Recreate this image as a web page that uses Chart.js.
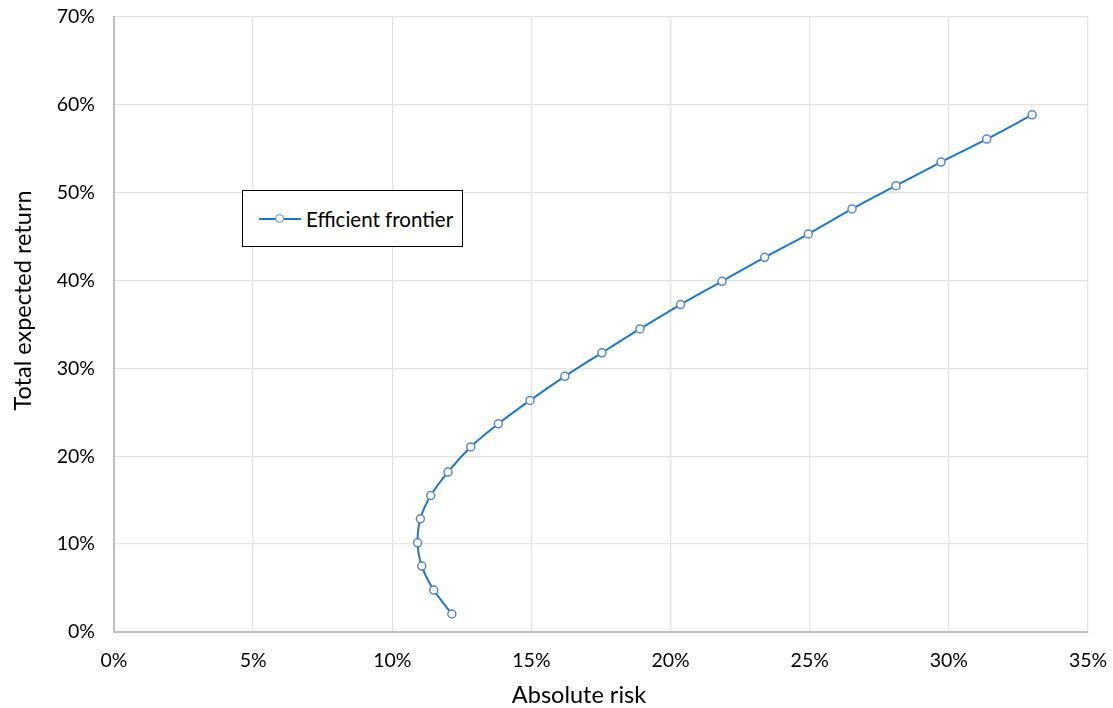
<!DOCTYPE html>
<html>
<head>
<meta charset="utf-8">
<script src="https://cdn.jsdelivr.net/npm/chart.js@4/dist/chart.umd.min.js"></script>
<style>
  html, body { margin: 0; padding: 0; background: #ffffff; }
  #wrap { position: relative; width: 1113px; height: 708px; }
  #legend {
    position: absolute; left: 242px; top: 190px; width: 219px; height: 55px;
    border: 1px solid #000; background: #fff; box-sizing: content-box;
    font-family: Lato, "Open Sans", sans-serif; font-size: 20.5px; color: #000;
    display: flex; align-items: center;
  }
  #legend .sym { position: relative; width: 42px; height: 20px; margin-left: 16px; margin-right: 5px; }
  #legend .sym .ln { position: absolute; left: 0; right: 0; top: 9px; height: 2px; background: #1f77c4; }
  #legend .sym .mk { position: absolute; left: 16px; top: 5px; width: 7px; height: 7px; border: 1.5px solid #5b86c5; border-radius: 50%; background: #fff; }
</style>
</head>
<body>
<div id="wrap">
  <canvas id="c" width="1113" height="708"></canvas>
  <div id="legend"><div class="sym"><div class="ln"></div><div class="mk"></div></div><span>Efficient frontier</span></div>
</div>
<script>
const seriesName = "Efficient frontier";
const riskValues = [12.14, 11.49, 11.06, 10.91, 11.01, 11.38, 12.0, 12.82, 13.81, 14.95, 16.2, 17.53, 18.9, 20.36, 21.85, 23.38, 24.95, 26.52, 28.1, 29.72, 31.36, 32.99];
const returnValues = [2.05, 4.77, 7.5, 10.15, 12.88, 15.53, 18.2, 21.06, 23.7, 26.36, 29.1, 31.78, 34.5, 37.27, 39.92, 42.65, 45.3, 48.15, 50.8, 53.49, 56.1, 58.86];
const xTickValues = [0, 5, 10, 15, 20, 25, 30, 35];
const yTickValues = [0, 10, 20, 30, 40, 50, 60, 70];
const xTitle = "Absolute risk";
const yTitle = "Total expected return";

const points = riskValues.map((x, i) => ({ x: x, y: returnValues[i] }));
const fontFamily = 'Lato, "Open Sans", sans-serif';

const axisTitles = {
  id: 'axisTitles',
  afterDraw(chart) {
    const ctx = chart.ctx, a = chart.chartArea;
    ctx.save();
    ctx.fillStyle = '#000';
    ctx.font = '23.5px ' + fontFamily;
    ctx.textAlign = 'center';
    ctx.textBaseline = 'alphabetic';
    ctx.fillText(xTitle, (a.left + a.right) / 2 - 22, 703);
    ctx.translate(31, (a.top + a.bottom) / 2 - 24);
    ctx.rotate(-Math.PI / 2);
    ctx.fillText(yTitle, 0, 0);
    ctx.restore();
  }
};

new Chart(document.getElementById('c'), {
  type: 'scatter',
  data: {
    datasets: [{
      label: seriesName,
      data: points,
      showLine: true,
      borderColor: '#1f77c4',
      borderWidth: 2,
      tension: 0.3,
      pointRadius: 4,
      pointBorderWidth: 1.5,
      pointBorderColor: '#5b86c5',
      pointBackgroundColor: '#ffffff'
    }]
  },
  plugins: [axisTitles],
  options: {
    responsive: false,
    animation: false,
    layout: { padding: { left: 0, right: 25, top: 17, bottom: 0 } },
    plugins: { legend: { display: false }, tooltip: { enabled: false } },
    scales: {
      x: {
        type: 'linear', min: 0, max: 35,
        afterBuildTicks: (s) => { s.ticks = xTickValues.map(v => ({ value: v })); },
        afterFit: (s) => { s.height = 76; s.paddingLeft = 0; s.paddingRight = 0; },
        ticks: { callback: v => v + '%', color: '#000', font: { family: fontFamily, size: 19.5 }, padding: 17, maxRotation: 0 },
        grid: { color: '#e4e4e4', lineWidth: 1.3, drawTicks: false },
        border: { color: '#bfbfbf', width: 2 }
      },
      y: {
        type: 'linear', min: 0, max: 70,
        afterBuildTicks: (s) => { s.ticks = yTickValues.map(v => ({ value: v })); },
        afterFit: (s) => { s.width = 114; s.paddingTop = 0; s.paddingBottom = 0; },
        ticks: { callback: v => v + '%', color: '#000', font: { family: fontFamily, size: 19.5 }, padding: 19 },
        grid: { color: '#e4e4e4', lineWidth: 1.3, drawTicks: false },
        border: { color: '#bfbfbf', width: 2 }
      }
    }
  }
});
</script>
</body>
</html>
